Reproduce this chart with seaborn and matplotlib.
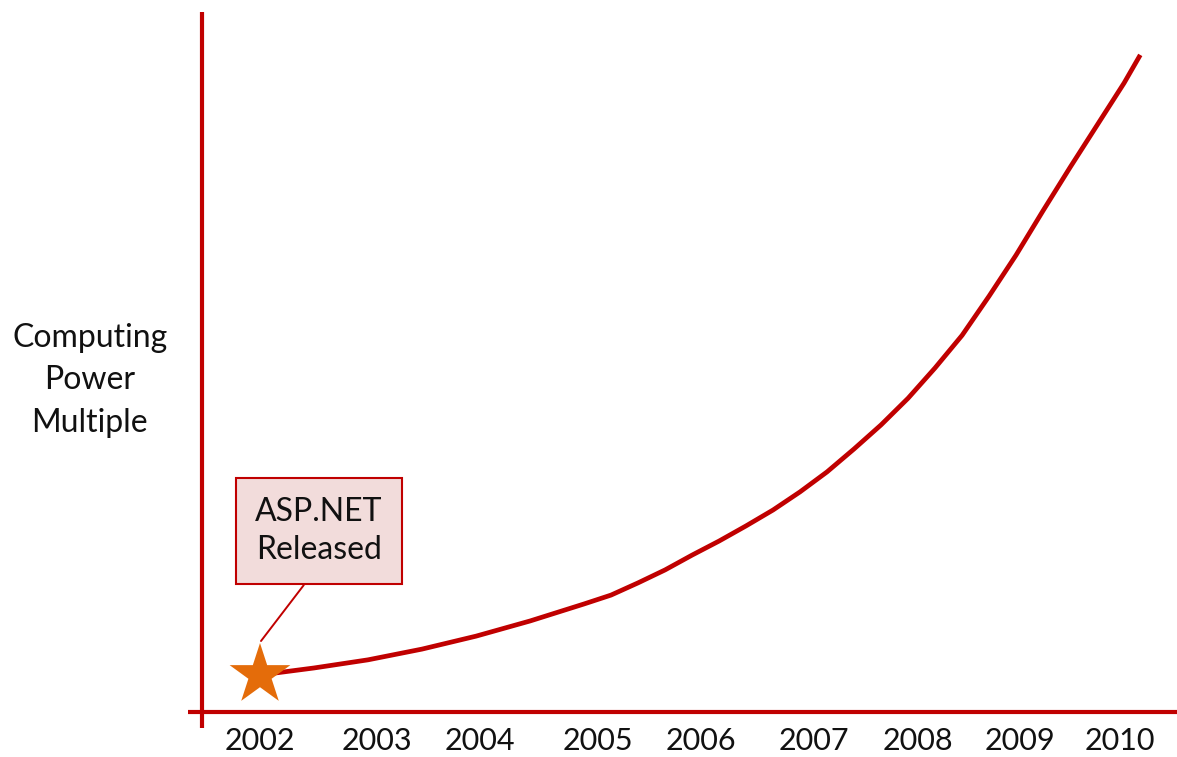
import matplotlib
matplotlib.use("Agg")
import matplotlib.pyplot as plt
import matplotlib.transforms as mtransforms
import seaborn as sns
import pandas as pd

# ---- data ----
years = [2002, 2002.5, 2003, 2003.5, 2004, 2004.5, 2005, 2005.25, 2005.5, 2005.75,
         2006, 2006.25, 2006.5, 2006.75, 2007, 2007.25, 2007.5, 2007.75,
         2008, 2008.25, 2008.5, 2008.75, 2009, 2009.25, 2009.5, 2009.75, 2010, 2010.15]
power = [1.0, 1.19, 1.41, 1.70, 2.05, 2.46, 2.92, 3.16, 3.49, 3.84,
         4.24, 4.62, 5.03, 5.46, 5.95, 6.49, 7.11, 7.76,
         8.48, 9.30, 10.18, 11.24, 12.35, 13.55, 14.72, 15.86, 17.0, 17.76]
year_labels = ["2002", "2003", "2004", "2005", "2006", "2007", "2008", "2009", "2010"]
release_year = [2002]
release_power = [1.0]
release_text = "ASP.NET\nReleased"
ylabel_text = "Computing\nPower\nMultiple"

# ---- layout (not data) ----
label_positions = [2002, 2003.08, 2004.04, 2005.13, 2006.08, 2007.13, 2008.09, 2009.04, 2009.96]
RED = "#C00000"
ORANGE = "#E46C0A"

sns.set_theme(style="white")
plt.rcParams["font.family"] = ["Lato", "DejaVu Sans"]

fig = plt.figure(figsize=(11.77, 7.57), dpi=100)
ax = fig.add_axes([202 / 1177, 45 / 757, 975 / 1177, 700 / 757])

df = pd.DataFrame({"year": years, "power": power})
sns.lineplot(data=df, x="year", y="power", color=RED, linewidth=3.4, ax=ax,
             zorder=3, solid_capstyle="butt", solid_joinstyle="round")
sns.scatterplot(x=release_year, y=release_power, marker="*", s=46 ** 2,
                color=ORANGE, edgecolor="none", linewidth=0, ax=ax, zorder=5)

ax.set_xlim(2001.463, 2010.49)
ax.set_ylim(0, 18.92)

for s in ax.spines.values():
    s.set_visible(False)
# axis lines
ax.plot([-0.0144, 1], [0, 0], transform=ax.transAxes, color=RED, lw=3.0,
        clip_on=False, solid_capstyle="butt", zorder=4)
ax.plot([0, 0], [-0.0229, 1], transform=ax.transAxes, color=RED, lw=3.0,
        clip_on=False, solid_capstyle="butt", zorder=4)

ax.set_xticks(label_positions)
ax.set_xticklabels(year_labels, fontsize=22, color="#111111")
ax.set_yticks([])
ax.tick_params(axis="x", length=0, pad=11)
ax.set_xlabel("")
ax.set_ylabel("")

ax.text(-0.115, 0.474, ylabel_text, transform=ax.transAxes, ha="center",
        va="center", fontsize=23, linespacing=1.52, color="#111111")

star_top = mtransforms.offset_copy(ax.transData, fig=fig, x=1, y=34, units="dots")
ax.annotate(release_text, xy=(release_year[0], release_power[0]), xycoords=star_top,
            xytext=(58, 110), textcoords="offset pixels", ha="center", va="center",
            fontsize=23, linespacing=1.35, color="#111111",
            bbox=dict(boxstyle="square,pad=0.6", fc="#F2DCDB", ec=RED, lw=1.5),
            arrowprops=dict(arrowstyle="-", color=RED, lw=1.4, relpos=(0.5, 0),
                            shrinkA=0, shrinkB=0),
            zorder=6)

fig.savefig("out.png", dpi=100)
